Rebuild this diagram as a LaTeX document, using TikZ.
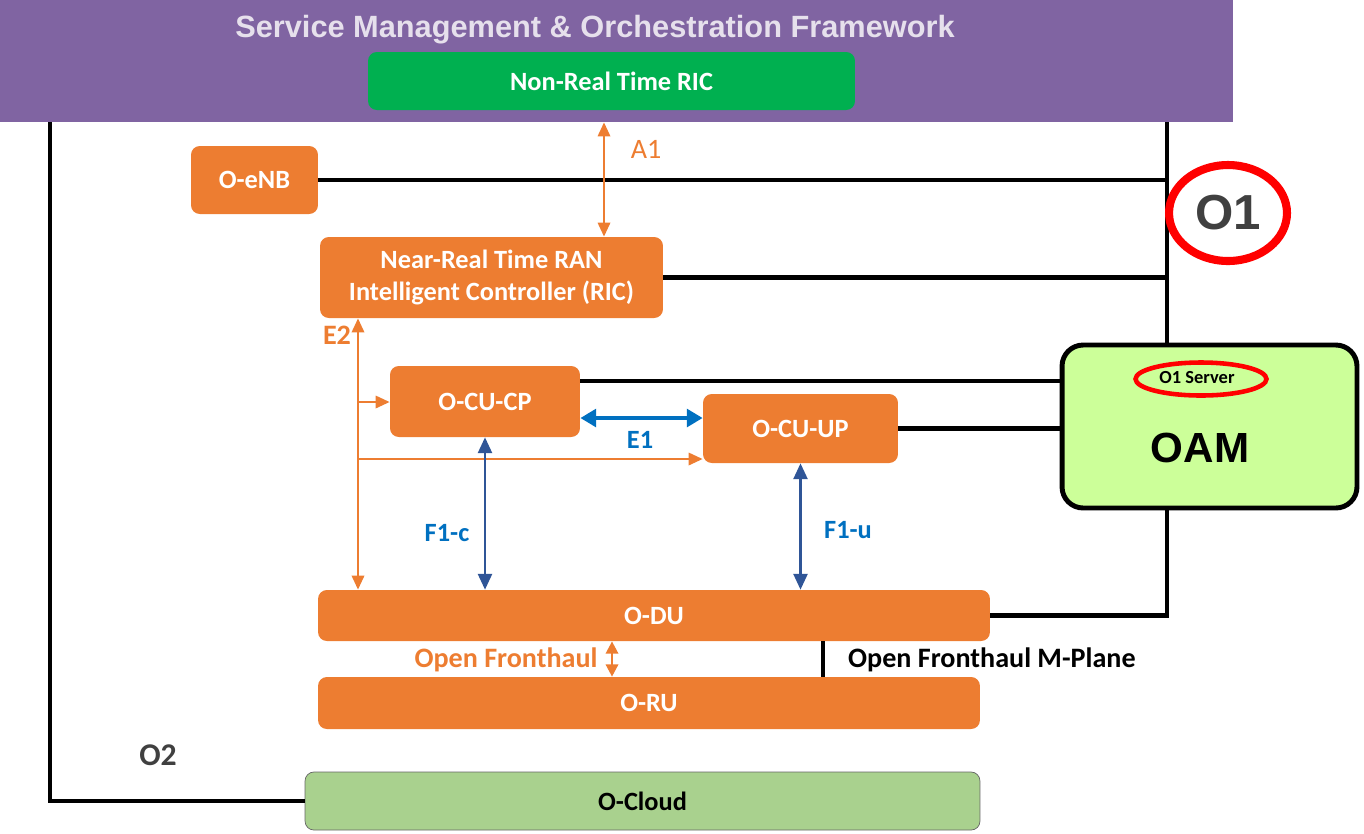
\documentclass[tikz,border=0pt]{standalone}
\usepackage{fontspec}
\setmainfont{Carlito}
\newfontfamily\arialfont{Liberation Sans}
\usetikzlibrary{positioning,shapes.geometric,arrows.meta}
\definecolor{smopurple}{HTML}{8064A2}
\definecolor{smotext}{HTML}{E6E0EC}
\definecolor{ricgreen}{HTML}{00B050}
\definecolor{ranorange}{HTML}{ED7D31}
\definecolor{e1blue}{HTML}{0070C0}
\definecolor{f1blue}{HTML}{2F5597}
\definecolor{oamgreen}{HTML}{CCFF99}
\definecolor{cloudgreen}{HTML}{A9D18E}
\definecolor{labelgray}{HTML}{404040}

\begin{document}
\begin{tikzpicture}[
    x=0.02cm, y=-0.02cm,
    every node/.style={font=\fontsize{15}{18}\selectfont\bfseries},
    ranbox/.style={rectangle, fill=ranorange, text=white, rounded corners=5pt, inner sep=0pt, align=center},
    link/.style={draw=black, line width=2.8pt},
    e2link/.style={draw=ranorange, line width=1.4pt, -{Triangle[length=8pt,width=7pt]}},
    f1link/.style={draw=f1blue, line width=1.3pt, {Triangle[length=9pt,width=8pt]}-{Triangle[length=9pt,width=8pt]}},
    redring/.style={ellipse, draw=red, inner sep=0pt}
]
    \useasboundingbox (0,0) rectangle (1364,833);

    % SMO frame
    \node[rectangle, fill=smopurple, minimum width=24.66cm, minimum height=2.44cm, inner sep=0pt] (smo) at (616.5,61) {};
    \node[text=smotext, font=\arialfont\fontsize{17.5}{20}\selectfont\bfseries] (smotitle) at (595,30) {Service Management \& Orchestration Framework};
    \node[rectangle, fill=ricgreen, text=white, rounded corners=5pt, minimum width=9.74cm, minimum height=1.16cm] (nonrt) at (611.5,81) {Non-Real Time RIC};

    % RAN nodes
    \node[ranbox, minimum width=2.54cm, minimum height=1.36cm] (oenb) at (254.5,180) {O-eNB};
    \node[ranbox, minimum width=6.86cm, minimum height=1.62cm] (nearrt) at (491.5,277.5) {Near-Real Time RAN\\Intelligent Controller (RIC)};
    \node[ranbox, minimum width=3.8cm, minimum height=1.42cm] (cucp) at (485,401.5) {O-CU-CP};
    \node[ranbox, minimum width=3.9cm, minimum height=1.38cm] (cuup) at (800.5,428.5) {O-CU-UP};
    \node[ranbox, minimum width=13.44cm, minimum height=1.02cm] (odu) at (654,615.5) {O-DU};
    \node[ranbox, minimum width=13.24cm, minimum height=1.04cm] (oru) at (649,703) {O-RU};
    \node[rectangle, fill=cloudgreen, draw=gray!80!black, rounded corners=5pt, minimum width=13.5cm, minimum height=1.16cm] (ocloud) at (642.5,801) {O-Cloud};

    % O1 and O2 buses
    \draw[link] (smo.south -| 1167,0) |- (odu.east);
    \draw[link] (smo.south -| 50,0) |- (ocloud.west);
    \draw[link] (oenb.east) -- (oenb.east -| 1167,0);
    \draw[link] (nearrt.east) -- (nearrt.east -| 1167,0);

    % OAM
    \node[rectangle, fill=oamgreen, draw=black, line width=2.8pt, rounded corners=12pt, minimum width=5.9cm, minimum height=3.26cm] (oam) at (1209.5,426.5) {};
    \node[font=\arialfont\fontsize{24}{28}\selectfont\bfseries] (oamtext) at (1200,448) {OAM};
    \node[font=\fontsize{10.5}{12}\selectfont\bfseries] (o1srv) at (1197,378) {O1 Server};
    \node[redring, line width=2.6pt, minimum width=2.62cm, minimum height=0.66cm] (o1srvring) at (1201,379) {};
    \draw[link] (cucp.east |- 0,381) -- (oam.west |- 0,381);
    \draw[link] (cuup.east) -- (cuup.east -| oam.west);

    % O1 label
    \node[redring, line width=4.6pt, minimum width=2.36cm, minimum height=1.92cm, text=labelgray, font=\arialfont\fontsize{28}{32}\selectfont\bfseries] (o1) at (1228,213) {O1};

    % A1
    \draw[draw=ranorange, line width=1.4pt, {Triangle[length=8pt,width=7pt]}-{Triangle[length=8pt,width=7pt]}] (smo.south -| 604,0) -- (nearrt.north -| 604,0);
    \node[text=ranorange, font=\fontsize{16}{19}\selectfont] (a1) at (646,149) {A1};

    % E2
    \draw[e2link, {Triangle[length=8pt,width=7pt]}-{Triangle[length=8pt,width=7pt]}] (nearrt.south -| 358,0) -- (odu.north -| 358,0);
    \draw[e2link] (358,402) -- (cucp.west |- 0,402);
    \draw[e2link] (358,459) -- (cuup.west |- 0,459);
    \node[text=ranorange, font=\fontsize{16}{19}\selectfont\bfseries] (e2) at (337,335) {E2};

    % E1
    \draw[draw=e1blue, line width=2.4pt, {Triangle[length=9pt,width=10pt]}-{Triangle[length=9pt,width=10pt]}] (cucp.east |- 0,418) -- (cuup.west |- 0,418);
    \node[text=e1blue] (e1) at (640,440) {E1};

    % F1
    \draw[f1link] (cucp.south) -- (odu.north -| cucp.south);
    \draw[f1link] (cuup.south) -- (odu.north -| cuup.south);
    \node[text=e1blue] (f1c) at (447,533) {F1-c};
    \node[text=e1blue] (f1u) at (848,530) {F1-u};

    % Fronthaul
    \draw[draw=ranorange, line width=1.4pt, {Triangle[length=7pt,width=7pt]}-{Triangle[length=7pt,width=7pt]}] (odu.south -| 612,0) -- (oru.north -| 612,0);
    \node[text=ranorange, font=\fontsize{16}{19}\selectfont\bfseries] (ofh) at (506,660) {Open Fronthaul};
    \draw[draw=black, line width=2.4pt] (odu.south -| 823,0) -- (oru.north -| 823,0);
    \node[anchor=west, font=\fontsize{16}{19}\selectfont\bfseries] (mplane) at (842,660) {Open Fronthaul M-Plane};

    % O2 label
    \node[text=labelgray, font=\fontsize{18}{21}\selectfont\bfseries] (o2) at (158,755) {O2};
\end{tikzpicture}
\end{document}
